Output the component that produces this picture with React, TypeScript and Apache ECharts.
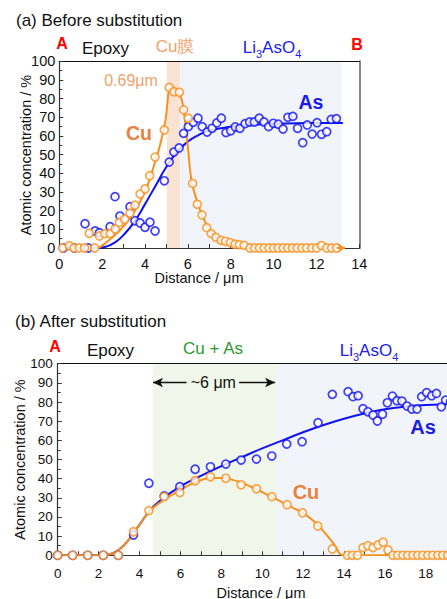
import React, { useEffect, useRef } from "react";
import * as echarts from "echarts";

// ---------- (a) Before substitution ----------
const cuAX = [0.15, 0.47, 0.69, 0.93, 1.18, 1.40, 1.65, 1.87, 2.12, 2.37, 2.61, 2.80, 3.05, 3.30, 3.53, 3.77, 4.00, 4.22, 4.47, 4.90, 5.13, 5.35, 5.60, 5.80, 6.02, 6.22, 6.44, 6.66, 6.88, 7.09, 7.31, 7.55, 7.76, 7.98, 8.20, 8.40, 8.63, 8.90, 9.12, 9.34, 9.56, 9.79, 10.00, 10.22, 10.45, 10.66, 10.88, 11.10, 11.32, 11.54, 11.78, 12.01, 12.24, 12.48, 12.71, 12.94];
const cuAY = [0, 1.2, 0, 0, 0, 7.9, 0, 6.4, 7.7, 7.7, 10.2, 13.7, 15.4, 18.6, 22.9, 28.9, 31.6, 38.7, 48.7, 63.2, 86, 83.7, 83.4, 74, 69.5, 34.6, 23.4, 17.7, 10.9, 7.7, 5.7, 4.1, 3.6, 2.9, 2.0, 1.8, 1.4, 0, 0, 0, 0, 0, 0, 0, 0, 0, 0, 0, 0, 0, 0, 0, 1.3, 0, 0, 0];
const asAX = [0.2, 0.7, 1.2, 1.35, 1.67, 1.87, 2.37, 2.6, 2.83, 3.3, 3.53, 3.77, 4.0, 4.23, 4.47, 4.9, 5.13, 5.35, 5.59, 5.8, 6.02, 6.25, 6.47, 6.67, 6.9, 7.13, 7.35, 7.56, 7.78, 8.0, 8.21, 8.43, 8.67, 8.88, 9.1, 9.33, 9.55, 9.77, 9.99, 10.22, 10.44, 10.67, 10.9, 11.12, 11.36, 11.57, 11.8, 12.03, 12.24, 12.48, 12.69, 12.93];
const asAY = [0, 0, 13, 0, 9.1, 8.2, 11.4, 27.5, 17.1, 22.1, 14.6, 13.4, 11.1, 13.8, 9.1, 36, 46, 51.4, 53.6, 61.4, 65, 67.3, 69.5, 65, 62.1, 64.1, 67, 69.5, 61.8, 62.8, 64.8, 64.1, 66.6, 67.5, 67.5, 69.5, 67.5, 65, 66.8, 66.3, 63.7, 70, 70.5, 64.1, 56.4, 65.9, 61, 67.1, 60.9, 62.3, 68.9, 69.3];
const cuFitAX = [0, 1.75, 2.3, 2.84, 3.3, 3.77, 4.1, 4.4, 4.7, 4.95, 5.2, 5.45, 5.7, 5.87, 6.02, 6.18, 6.49, 6.88, 7.34, 7.8, 8.28, 9.0, 11.0, 13.2];
const cuFitAY = [0, 0, 4, 9.6, 16, 24.8, 33, 43.5, 55, 68, 86, 84.5, 80, 67.7, 51.6, 35.5, 23, 12.3, 5.2, 2.5, 0.7, 0, 0, 0];
const asFitAX = [0, 1.8, 2.2, 2.6, 3.0, 3.5, 4.0, 4.5, 5.0, 5.5, 6.0, 6.5, 7.0, 8.0, 9.0, 10.0, 11.5, 13.2];
const asFitAY = [0, 0, 0.8, 3, 7, 14, 23.5, 33.5, 43.5, 51.5, 57, 60.5, 62.8, 64.9, 66, 66.6, 66.9, 67];
const bandCuFilmA = [5.01, 5.63];
const bandLiAsA = [5.63, 13.18];
const cuArrowA = [12.95, 13.33];

// ---------- (b) After substitution ----------
const cuBX = [0, 0.73, 1.47, 2.23, 2.96, 3.71, 4.46, 5.21, 5.97, 6.72, 7.47, 8.22, 8.97, 9.72, 10.47, 11.22, 11.97, 12.72, 13.43, 14.17, 14.41, 14.66, 14.93, 15.17, 15.42, 15.66, 15.91, 16.15, 16.39, 16.63, 16.88, 17.12, 17.37, 17.61, 17.85, 18.1, 18.34, 18.59, 18.83, 19.07, 19.32];
const cuBY = [0, 0, 0, 0, 0, 12.3, 23.3, 30.6, 32.7, 38.9, 41, 40.2, 36.8, 34.7, 30.6, 26.4, 22.2, 15.3, 3.3, 0, 0, 0, 4, 5, 4, 5.4, 6.8, 2.8, 0, 0, 0, 0, 0, 0, 0, 0, 0, 0, 0, 0, 0];
const asBX = [0, 0.73, 1.47, 2.23, 2.96, 3.71, 4.46, 5.21, 5.97, 6.72, 7.47, 8.22, 8.97, 9.72, 10.47, 11.2, 11.95, 12.73, 13.43, 14.2, 14.44, 14.69, 14.93, 15.17, 15.42, 15.63, 15.88, 16.12, 16.37, 16.59, 16.83, 17.08, 17.32, 17.57, 17.8, 18.04, 18.29, 18.52, 18.76, 18.97, 19.2];
const asBY = [0, 0, 0, 0, 0, 10.6, 37.6, 31, 35.8, 44.9, 46.2, 47.6, 49.7, 50.2, 51.8, 58.1, 59.3, 69.2, 84, 85.4, 82.8, 83.3, 76.5, 74.9, 73.2, 70.1, 73.6, 79.6, 83.1, 80.7, 80.5, 77.9, 76.3, 76.3, 82.8, 84.9, 83.3, 84.5, 77.5, 81, 80];
const cuFitBX = [0, 1.0, 2.0, 2.5, 3.0, 3.5, 4.0, 4.5, 5.0, 5.5, 6.0, 6.5, 7.0, 7.5, 8.0, 8.5, 9.0, 9.5, 10.0, 10.5, 11.0, 11.5, 12.0, 12.5, 13.0, 13.5, 14.0, 15.0, 16.0, 17.0, 18.0, 19.0, 20.0];
const cuFitBY = [0, 0, 0, 0.4, 3, 8.5, 16, 23, 27.5, 31, 34, 37, 39.2, 40.3, 40.3, 39.5, 37.8, 35.5, 33, 30.3, 27.5, 24.8, 22, 18, 12.5, 6, 0, 0, 0, 0, 0, 0, 0];
const asFitBX = [0, 1.0, 2.0, 2.5, 3.0, 3.5, 4.0, 4.5, 5.0, 6.0, 7.0, 8.0, 9.0, 10.0, 11.0, 12.0, 13.0, 14.0, 15.0, 16.0, 17.0, 18.0, 19.0, 20.0];
const asFitBY = [0, 0, 0, 0.4, 3, 8.5, 16, 23.3, 28.5, 36, 41.5, 46.5, 51.2, 55.8, 60, 64.2, 68, 71.3, 74, 76.2, 77.6, 78.4, 78.8, 79];
const bandCuAsB = [4.66, 10.68];
const bandLiAsB = [10.68, 20];
const widthArrowY = 90.2;
const widthArrowSegs = [[6.3, 4.66], [8.87, 10.63]];

const xTicksA = { min: 0, max: 14, interval: 2 };
const xTicksB = { min: 0, max: 20, interval: 2 };
const yTicks = { min: 0, max: 100, interval: 10 };

const CU = "#f7901e";
const AS = "#1010f5";
const FONT = '"Liberation Sans", Arial, sans-serif';

const zip = (xs: number[], ys: number[]) => xs.map((x, i) => [x, ys[i]]);

function xAxisMain(gi: number, t: any, labelSize: number, margin: number, hideLast: boolean) {
  return {
    gridIndex: gi, type: "value", ...t, z: 1,
    axisLine: { show: true, onZero: false, lineStyle: { color: "#333", width: 1.2 } },
    axisTick: { show: true, inside: true, length: 4, lineStyle: { color: "#333" } },
    minorTick: { show: true, splitNumber: 2, length: 4, lineStyle: { color: "#333" } },
    splitLine: { show: false }, minorSplitLine: { show: false },
    axisLabel: {
      fontSize: labelSize, color: "#111", fontFamily: FONT, margin,
      formatter: (v: number) => (hideLast && v === t.max ? "" : String(v)),
    },
  };
}
function yAxisMain(gi: number, labelSize: number, margin: number) {
  return {
    gridIndex: gi, type: "value", ...yTicks, z: 1,
    axisLine: { show: true, onZero: false, lineStyle: { color: "#333", width: 1.2 } },
    axisTick: { show: true, inside: true, length: 4, lineStyle: { color: "#333" } },
    minorTick: { show: true, splitNumber: 2, length: 3, lineStyle: { color: "#333" } },
    splitLine: { show: false }, minorSplitLine: { show: false },
    axisLabel: { fontSize: labelSize, color: "#111", fontFamily: FONT, margin },
  };
}
function borderAxis(gi: number, t: any, position: string, color: string, width: number) {
  return {
    gridIndex: gi, type: "value", ...t, position, z: 1,
    axisLine: { show: true, onZero: false, lineStyle: { color, width } },
    axisTick: { show: false }, axisLabel: { show: false }, splitLine: { show: false },
  };
}

function text(x: number, y: number, t: string, fill: string, size: number, bold = false, align = "center", rotation = 0) {
  return {
    type: "text", x, y, rotation, z: 10,
    style: { text: t, fill, fontSize: size, fontFamily: FONT, fontWeight: bold ? "bold" : "normal", align, verticalAlign: "middle" },
  };
}
function liAsO(x: number, y: number) {
  return {
    type: "text", x, y, z: 10,
    style: {
      text: "{n|Li}{s|3}{n|AsO}{s|4}", align: "center", verticalAlign: "middle",
      rich: {
        n: { fontSize: 17, fontFamily: FONT, fill: "#2020f0", lineHeight: 24, verticalAlign: "middle" },
        s: { fontSize: 11, fontFamily: FONT, fill: "#2020f0", lineHeight: 11, verticalAlign: "bottom" },
      },
    },
  };
}

const scatterStyle = (c: string) => ({ color: "#ffffff", borderColor: c, borderWidth: 1.7 });
const fitLine = (xi: number, xs: number[], ys: number[], color: string, smooth: number) => ({
  type: "line", xAxisIndex: xi, yAxisIndex: xi, data: zip(xs, ys), smooth,
  symbol: "none", lineStyle: { color, width: 2, cap: "round", join: "round" }, z: 2,
});

export default function App() {
  const ref = useRef<HTMLDivElement>(null);
  useEffect(() => {
    if (!ref.current) return;
    const chart = echarts.init(ref.current, null, { renderer: "svg" });
    const cuLineA: any = fitLine(0, cuFitAX, cuFitAY, CU, 0.35);
    cuLineA.markLine = {
      silent: true, symbol: ["none", "arrow"], symbolSize: 7, label: { show: false },
      lineStyle: { color: CU, width: 2, type: "solid" },
      data: [[{ coord: [cuArrowA[0], 0] }, { coord: [cuArrowA[1], 0] }]],
    };
    const option: any = {
      animation: false,
      backgroundColor: "#ffffff",
      grid: [
        { left: 59.3, top: 61.3, width: 300, height: 186.7 },
        { left: 57.7, top: 363.7, width: 409, height: 191.6 },
      ],
      xAxis: [
        xAxisMain(0, xTicksA, 14.5, 8, false),
        borderAxis(0, xTicksA, "top", "#111", 1.2),
        xAxisMain(1, xTicksB, 13.5, 11, true),
        borderAxis(1, xTicksB, "top", "#111", 1.2),
      ],
      yAxis: [
        yAxisMain(0, 14.5, 4),
        borderAxis(0, yTicks, "right", "#8a8a8a", 2),
        yAxisMain(1, 13.5, 5),
      ],
      series: [
        {
          type: "line", xAxisIndex: 0, yAxisIndex: 0, data: [], z: 0, silent: true,
          markArea: {
            silent: true,
            data: [
              [{ xAxis: bandCuFilmA[0], itemStyle: { color: "#fbe3d4" } }, { xAxis: bandCuFilmA[1] }],
              [{ xAxis: bandLiAsA[0], itemStyle: { color: "#f1f5fb" } }, { xAxis: bandLiAsA[1] }],
            ],
          },
        },
        fitLine(0, asFitAX, asFitAY, AS, 0.5),
        cuLineA,
        {
          type: "scatter", xAxisIndex: 0, yAxisIndex: 0, data: zip(asAX, asAY), symbol: "circle", symbolSize: 8,
          itemStyle: scatterStyle(AS), z: 3,
        },
        {
          type: "scatter", xAxisIndex: 0, yAxisIndex: 0, data: zip(cuAX, cuAY), symbol: "circle", symbolSize: 8,
          itemStyle: scatterStyle(CU), z: 4,
        },
        {
          type: "line", xAxisIndex: 2, yAxisIndex: 2, data: [], z: 0, silent: true,
          markArea: {
            silent: true,
            data: [
              [{ xAxis: bandCuAsB[0], itemStyle: { color: "#f0f6ea" } }, { xAxis: bandCuAsB[1] }],
              [{ xAxis: bandLiAsB[0], itemStyle: { color: "#f1f5fb" } }, { xAxis: bandLiAsB[1] }],
            ],
          },
          markLine: {
            silent: true, symbol: ["none", "arrow"], symbolSize: [7, 10], label: { show: false },
            lineStyle: { color: "#111", width: 1.4, type: "solid" },
            data: widthArrowSegs.map((s) => [{ coord: [s[0], widthArrowY] }, { coord: [s[1], widthArrowY] }]),
          },
        },
        { ...fitLine(1, asFitBX, asFitBY, AS, 0.5), xAxisIndex: 2, yAxisIndex: 2 },
        { ...fitLine(1, cuFitBX, cuFitBY, CU, 0.5), xAxisIndex: 2, yAxisIndex: 2 },
        {
          type: "scatter", xAxisIndex: 2, yAxisIndex: 2, data: zip(asBX, asBY), symbol: "circle", symbolSize: 8,
          itemStyle: scatterStyle(AS), z: 3,
        },
        {
          type: "scatter", xAxisIndex: 2, yAxisIndex: 2, data: zip(cuBX, cuBY), symbol: "circle", symbolSize: 8,
          itemStyle: scatterStyle(CU), z: 4,
        },
      ],
      graphic: [
        text(16, 20, "(a) Before substitution", "#111", 17, false, "left"),
        text(62, 43, "A", "#ff0000", 16, true),
        text(105.5, 48, "Epoxy", "#111", 17),
        text(175, 46, "Cu膜", "#f2a26c", 17),
        liAsO(272, 47),
        text(357, 44, "B", "#ff0000", 16, true),
        text(131, 80, "0.69μm", "#f2a26c", 16),
        text(139, 133, "Cu", "#e8823c", 19.5, true),
        text(311, 102, "As", "#1a1ae6", 19.5, true),
        text(26, 155, "Atomic concentration / %", "#111", 14.5, false, "center", Math.PI / 2),
        text(199, 278, "Distance / μm", "#111", 14.5),

        text(15, 321, "(b) After substitution", "#111", 17, false, "left"),
        text(55, 346, "A", "#ff0000", 16, true),
        text(110.5, 350, "Epoxy", "#111", 17),
        text(213, 348, "Cu + As", "#2e9a2e", 17),
        liAsO(369, 350),
        text(213.3, 382.3, "~6 μm", "#111", 16),
        text(423, 427, "As", "#1a1ae6", 20, true),
        text(306, 492, "Cu", "#e8823c", 20, true),
        text(20, 459.5, "Atomic concentration / %", "#111", 14.5, false, "center", Math.PI / 2),
        text(261, 592.5, "Distance / μm", "#111", 14.5),
      ],
    };
    chart.setOption(option);
    return () => chart.dispose();
  }, []);
  return (
    <div style={{ position: "absolute", left: 0, top: 0, width: 447, height: 599, overflow: "hidden", background: "#fff" }}>
      <div ref={ref} style={{ width: 480, height: 599 }} />
    </div>
  );
}
